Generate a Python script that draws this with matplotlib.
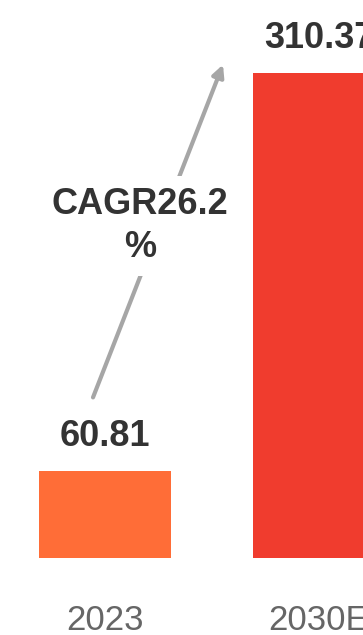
import matplotlib.pyplot as plt

# 市场规模数据
years = ['2023', '2030E']
values = [60.81, 310.37]
value_labels = ['60.81', '310.37']
bar_colors = ['#FF6D37', '#F03C2E']
cagr_text = 'CAGR26.2\n%'

plt.rcParams['font.family'] = ['Liberation Sans', 'DejaVu Sans']

fig = plt.figure(figsize=(3.63, 6.35), dpi=100)
ax = fig.add_axes([0, 77 / 635, 1, 558 / 635])

x = range(len(years))
ax.bar(x, values, width=0.617, color=bar_colors)
ax.set_xlim(-0.4907, 1.2056)
ax.set_ylim(6.26, 356)

for xi, v, lab in zip(x, values, value_labels):
    ax.annotate(lab, (xi, v), xytext=(0, 12), textcoords='offset points',
                ha='center', va='bottom', fontsize=26, fontweight='bold',
                color='#333333')

ax.set_xticks(list(x))
ax.set_xticklabels(years, fontsize=25, color='#666666')
ax.tick_params(axis='x', length=0, pad=33)
ax.set_yticks([])
for s in ax.spines.values():
    s.set_visible(False)

# 增长箭头
ax.annotate('', xy=(224 / 363, 1 - 62 / 558), xytext=(92 / 363, 1 - 400 / 558),
            xycoords='axes fraction', textcoords='axes fraction',
            arrowprops=dict(arrowstyle='-|>,head_width=0.35,head_length=0.7',
                            color='#A6A6A6', lw=3))
ax.text(140 / 363, 1 - 226 / 558, cagr_text, transform=ax.transAxes,
        ha='center', va='center', fontsize=26, fontweight='bold',
        color='#333333', linespacing=1.3, zorder=5,
        bbox=dict(facecolor='white', edgecolor='none', pad=8))

fig.savefig('out.png', dpi=100)
